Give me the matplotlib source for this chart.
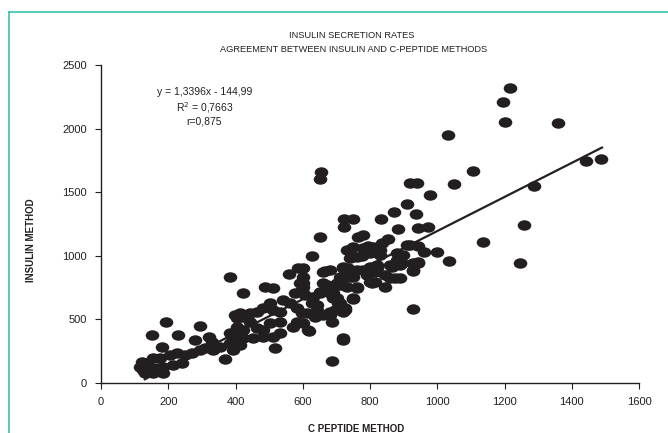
import numpy as np
import matplotlib
matplotlib.use("Agg")
import matplotlib.pyplot as plt
from matplotlib.path import Path
from matplotlib.transforms import Affine2D
from matplotlib.lines import Line2D

plt.rcParams['font.family'] = ['Liberation Sans', 'DejaVu Sans']

# C-peptide method (x) vs insulin method (y)
c_peptide = [
    654, 651, 919, 940, 1050, 1106, 1288, 978, 910, 871, 937, 833, 723, 750, 723, 883,
    943, 972, 1258, 651, 779, 764, 853, 836, 1136, 732, 749, 794, 809, 830, 919, 943,
    961, 999, 628, 776, 880, 859, 1035, 1246, 928, 943, 735, 761, 821, 815, 800, 666,
    601, 720, 741, 761, 806, 845, 874, 928, 711, 672, 687, 651, 631, 598, 601, 690,
    705, 749, 726, 642, 720, 642, 687, 928, 601, 619, 720, 687,
    1216, 1196, 1202, 1359, 1442, 1487, 1032,
    898, 889, 943, 928, 889, 910,
    741, 779, 761, 741, 809, 800, 830, 880, 895, 865, 681, 720, 735, 711, 749, 779,
    791, 821, 800, 815, 845, 859, 761, 732, 702, 690, 749, 711, 696, 726, 681,
    586, 559, 601, 660, 720, 384, 422, 488, 512, 592, 601, 660, 681, 711, 577, 607,
    651, 681, 702, 541, 562, 503, 482, 512, 532, 464, 443, 422, 404, 583, 598, 628,
    642, 660, 681, 720, 613, 636, 583, 571, 532, 503, 482, 443, 464, 422, 404, 452,
    482, 422, 532, 512, 393, 384, 616, 720, 517, 413, 393,
    193, 152, 229, 294, 280, 181, 321, 330, 369, 354, 384, 399, 413, 404, 205, 226,
    250, 271, 294, 309, 333, 175, 155, 122, 137, 125, 146, 167, 131, 155, 184, 184,
    214, 241, 116,
]
insulin = [
    1659, 1604, 1572, 1572, 1565, 1667, 1549, 1478, 1407, 1344, 1329, 1289, 1289, 1289, 1226, 1211,
    1219, 1226, 1242, 1148, 1164, 1148, 1132, 1101, 1109, 1046, 1069, 1077, 1046, 1046, 1085, 1077,
    1030, 1030, 998, 998, 967, 928, 959, 943, 943, 943, 904, 888, 928, 873, 912, 881,
    904, 826, 833, 755, 786, 755, 826, 888, 770, 770, 731, 708, 676, 731, 786, 668,
    629, 660, 590, 613, 558, 535, 480, 582, 472, 409, 338, 173,
    2319, 2209, 2052, 2044, 1745, 1761, 1950,
    1006, 928, 951, 881, 826, 1085,
    1046, 1061, 991, 983, 1069, 1022, 1006, 1022, 943, 912, 888, 904, 873, 833, 833, 888,
    849, 904, 794, 794, 849, 826, 747, 755, 786, 708, 668, 629, 574, 574, 535,
    904, 857, 833, 873, 912, 833, 708, 755, 747, 786, 755, 786, 755, 794, 708, 692,
    715, 708, 668, 653, 629, 629, 590, 574, 558, 558, 550, 519, 511, 590, 550, 629,
    574, 535, 558, 590, 550, 519, 480, 440, 480, 472, 417, 480, 432, 417, 417, 354,
    362, 354, 393, 362, 354, 314, 417, 354, 275, 299, 259,
    480, 377, 377, 448, 338, 283, 362, 322, 189, 283, 393, 535, 550, 440, 220, 236,
    220, 236, 259, 275, 259, 197, 197, 165, 157, 102, 86, 118, 75, 75, 126, 79,
    142, 157, 126,
]

slope, intercept = 1.3396, -144.99
line_x = [130, 1490]

fig = plt.figure(figsize=(6.68, 4.33), dpi=100)
ax = fig.add_axes([101 / 668, 1 - 383 / 433, 538 / 668, 318 / 433])

# elliptical marker, a bit wider than tall
ell = Path.unit_circle().transformed(Affine2D().scale(1.3, 1.0))
ax.plot(c_peptide, insulin, linestyle='none', marker=ell, markersize=9.8,
        color='#231f20', markeredgewidth=0, clip_on=False, zorder=3)

lx = np.array(line_x)
ax.plot(lx, slope * lx + intercept, color='#231f20', lw=1.6, zorder=4)

ax.set_xlim(0, 1600)
ax.set_ylim(0, 2500)
ax.set_xticks(range(0, 1601, 200))
ax.set_yticks(range(0, 2501, 500))
for s in ['top', 'right']:
    ax.spines[s].set_visible(False)
for s in ['left', 'bottom']:
    ax.spines[s].set_color('#231f20')
    ax.spines[s].set_linewidth(1.0)
ax.tick_params(direction='out', length=4, width=0.8, color='#231f20',
               labelsize=8, labelcolor='#231f20', pad=6)

ax.text(309, 2288, 'y = 1,3396x - 144,99', ha='center', va='center', fontsize=7.5, color='#231f20')
ax.text(309, 2162, 'R$^2$ = 0,7663', ha='center', va='center', fontsize=7.5, color='#231f20')
ax.text(305, 2052, 'r=0,875', ha='center', va='center', fontsize=7.5, color='#231f20')

fig.text(352 / 668, 1 - 36 / 433, 'INSULIN SECRETION RATES', ha='center', va='center',
         fontsize=6.7, color='#231f20')
fig.text(354 / 668, 1 - 50 / 433, 'AGREEMENT BETWEEN INSULIN AND C-PEPTIDE METHODS',
         ha='center', va='center', fontsize=6.7, color='#231f20')
fig.text(31 / 668, 1 - 240 / 433, 'INSULIN METHOD', rotation=90, ha='center', va='center',
         fontsize=7, fontweight='bold', color='#231f20')
fig.text(356 / 668, 1 - 429 / 433, 'C PEPTIDE METHOD', ha='center', va='center',
         fontsize=7, fontweight='bold', color='#231f20')

# teal page frame
teal = '#3cc2b3'
fig.add_artist(Line2D([9 / 668, 9 / 668], [0, 1 - 12 / 433], color=teal, lw=1.2))
fig.add_artist(Line2D([9 / 668, 1], [1 - 12 / 433, 1 - 12 / 433], color=teal, lw=1.2))

fig.savefig('out.png', dpi=100)
